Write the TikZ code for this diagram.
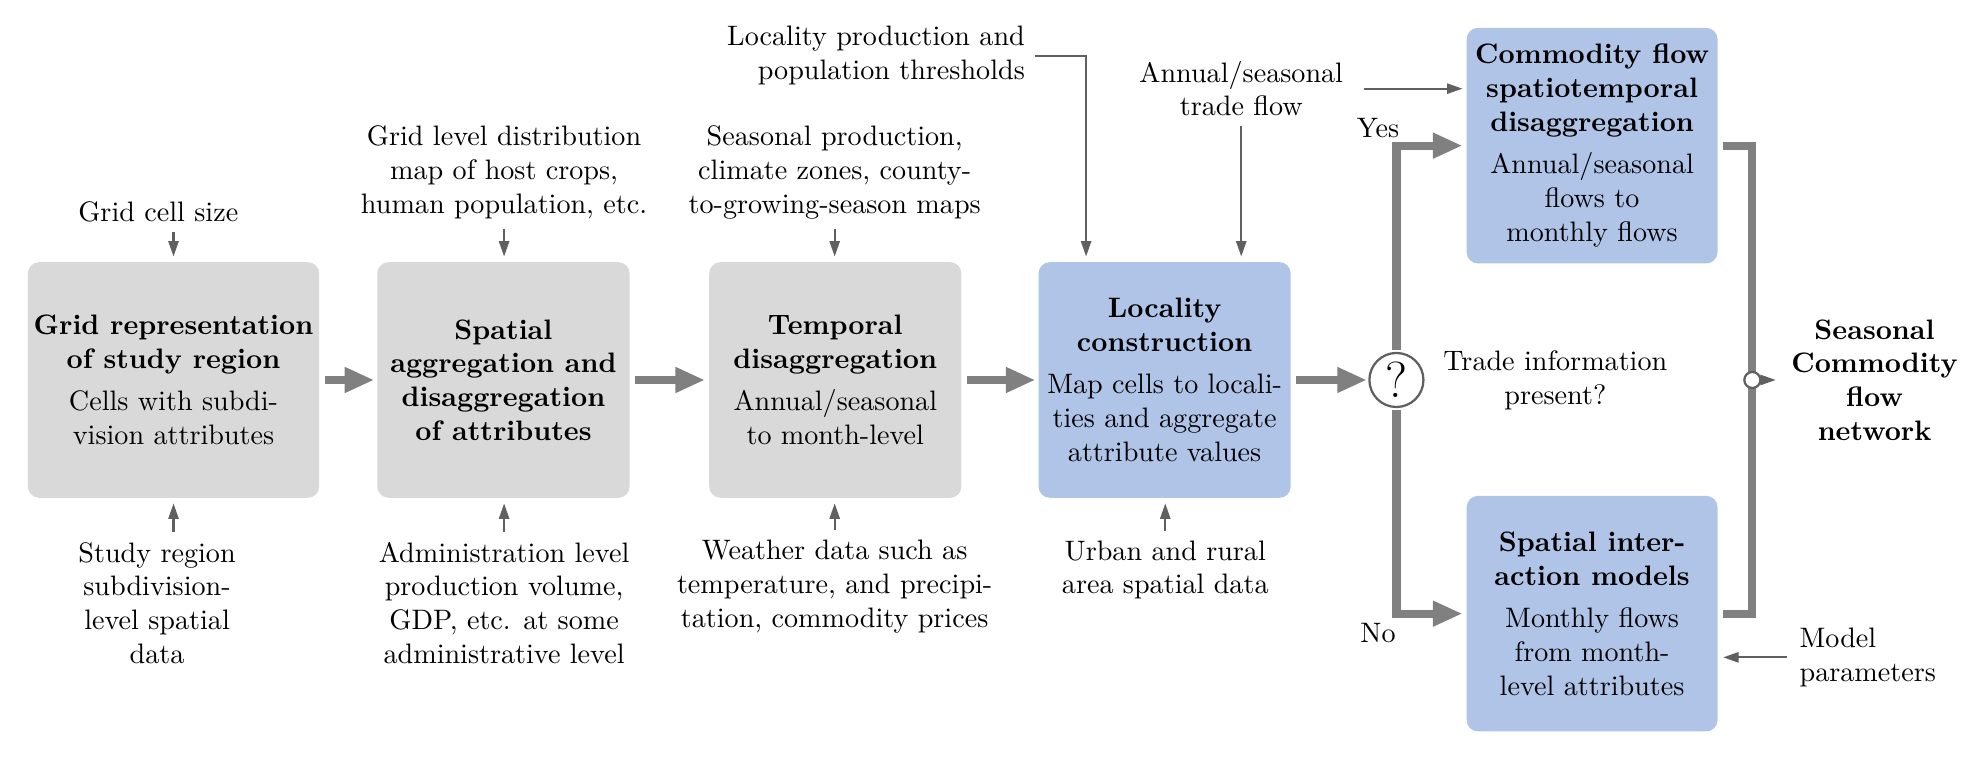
\documentclass[tikz,border=0pt]{standalone}
\usetikzlibrary{arrows.meta,calc}
\definecolor{boxgray}{HTML}{D9D9D9}
\definecolor{boxblue}{HTML}{AFC4E7}
\definecolor{flowgray}{HTML}{808080}
\definecolor{inputgray}{HTML}{606060}
\begin{document}
\begin{tikzpicture}[x=0.45pt,y=-0.45pt,
  procbox/.style={rounded corners=4pt, inner sep=2pt, align=center, minimum height=83.7pt},
  graybox/.style={procbox, fill=boxgray},
  bluebox/.style={procbox, fill=boxblue},
  flow/.style={draw=flowgray, line width=2.9pt, -{Triangle[length=10.5pt,width=8.5pt]}},
  flowline/.style={draw=flowgray, line width=2.9pt},
  feed/.style={draw=inputgray, line width=0.8pt, -{Triangle[length=5.5pt,width=3.6pt]}},
  lbl/.style={align=center},
]
\useasboundingbox (0,0) rectangle (1568,600);

% process boxes
\node[graybox, minimum width=103.5pt] (b1) at (137,300) {\textbf{Grid representation}\\\textbf{of study region}\\[3pt]Cells with subdi-\\vision attributes};
\node[graybox, minimum width=89.6pt] (b2) at (397.5,300) {\textbf{Spatial}\\\textbf{aggregation and}\\\textbf{disaggregation}\\\textbf{of attributes}};
\node[graybox, minimum width=89.6pt] (b3) at (659.5,300) {\textbf{Temporal}\\\textbf{disaggregation}\\[3pt]Annual/seasonal\\to month-level};
\node[bluebox, minimum width=89.6pt] (b4) at (919.5,300) {\textbf{Locality}\\\textbf{construction}\\[3pt]Map cells to locali-\\ties and aggregate\\attribute values};
\node[bluebox, minimum width=89.1pt] (b5) at (1257,115) {\textbf{Commodity flow}\\\textbf{spatiotemporal}\\\textbf{disaggregation}\\[3pt]Annual/seasonal\\flows to\\monthly flows};
\node[bluebox, minimum width=89.1pt] (b6) at (1257,484.5) {\textbf{Spatial inter-}\\\textbf{action models}\\[3pt]Monthly flows\\from month-\\level attributes};

% decision
\node[circle, draw=inputgray, line width=0.8pt, minimum size=19.2pt, inner sep=0pt, fill=white, font=\fontsize{18}{18}\selectfont] (q) at (1102.5,300) {?};
\node[lbl] (tip) at (1228,300) {Trade information\\present?};
\node (yes) at (1088,101) {Yes};
\node (no) at (1088,500) {No};

% main flow
\draw[flow, shorten <=1.8pt, shorten >=0.9pt] (b1) -- (b2);
\draw[flow, shorten <=1.8pt, shorten >=1.3pt] (b2) -- (b3);
\draw[flow, shorten <=1.8pt, shorten >=0.9pt] (b3) -- (b4);
\draw[flow, shorten <=1.8pt, shorten >=0.5pt] (b4) -- (q);
\draw[flow, shorten <=0.8pt, shorten >=1.3pt] (q.north) |- (b5.west);
\draw[flow, shorten <=0.8pt, shorten >=1.3pt] (q.south) |- (b6.west);

% output bracket
\coordinate (jc) at (1383.5,300);
\draw[flowline] ([xshift=1.8pt]b5.east) -| (jc) |- ([xshift=1.8pt]b6.east);
\node[circle, draw=inputgray, fill=white, line width=0.8pt, minimum size=5.7pt, inner sep=0pt] (jn) at (jc) {};
\node[lbl, font=\bfseries] (out) at (1480,300) {Seasonal\\Commodity\\flow\\network};
\draw[feed, shorten <=0.5pt, shorten >=2pt] (jn.east) -- (out.west);

% top inputs
\node[lbl] (gcs) at (125,167) {Grid cell size};
\draw[feed, shorten >=1.8pt] (gcs.south -| b1.north) -- (b1.north);
\node[lbl] (t2) at (398,136) {Grid level distribution\\map of host crops,\\human population, etc.};
\draw[feed, shorten >=1.8pt] (t2.south) -- (t2.south |- b2.north);
\node[lbl] (t3) at (659,136) {Seasonal production,\\climate zones, county-\\to-growing-season maps};
\draw[feed, shorten >=1.8pt] (t3.south) -- (t3.south |- b3.north);
\node[align=right, anchor=east] (t4) at (817,44) {Locality production and\\population thresholds};
\draw[feed, shorten >=1.8pt] (t4.east) -| ([xshift=17.1pt]b4.north west);
\node[lbl] (t5) at (980,70) {Annual/seasonal\\trade flow};
\draw[feed, shorten >=1.8pt] (t5.south) -- (t5.south |- b4.north);
\draw[feed, shorten <=4pt, shorten >=1.3pt] (t5.east) -- (t5.east -| b5.west);

% bottom inputs
\node[lbl] (s1) at (124,476) {Study region\\subdivision-\\level spatial\\data};
\draw[feed, shorten >=1.8pt] (s1.north -| b1.south) -- (b1.south);
\node[lbl] (s2) at (398,476) {Administration level\\production volume,\\GDP, etc. at some\\administrative level};
\draw[feed, shorten >=1.8pt] (s2.north) -- (s2.north |- b2.south);
\node[lbl] (s3) at (659,463) {Weather data such as\\temperature, and precipi-\\tation, commodity prices};
\draw[feed, shorten >=1.8pt] (s3.north) -- (s3.north |- b3.south);
\node[lbl] (s4) at (920,450) {Urban and rural\\area spatial data};
\draw[feed, shorten >=1.8pt] (s4.north) -- (s4.north |- b4.south);
\node[align=left, anchor=west] (mp) at (1413,519) {Model\\parameters};
\draw[feed, shorten <=1pt, shorten >=1.8pt] (mp.west) -- (mp.west -| b6.east);
\end{tikzpicture}
\end{document}
